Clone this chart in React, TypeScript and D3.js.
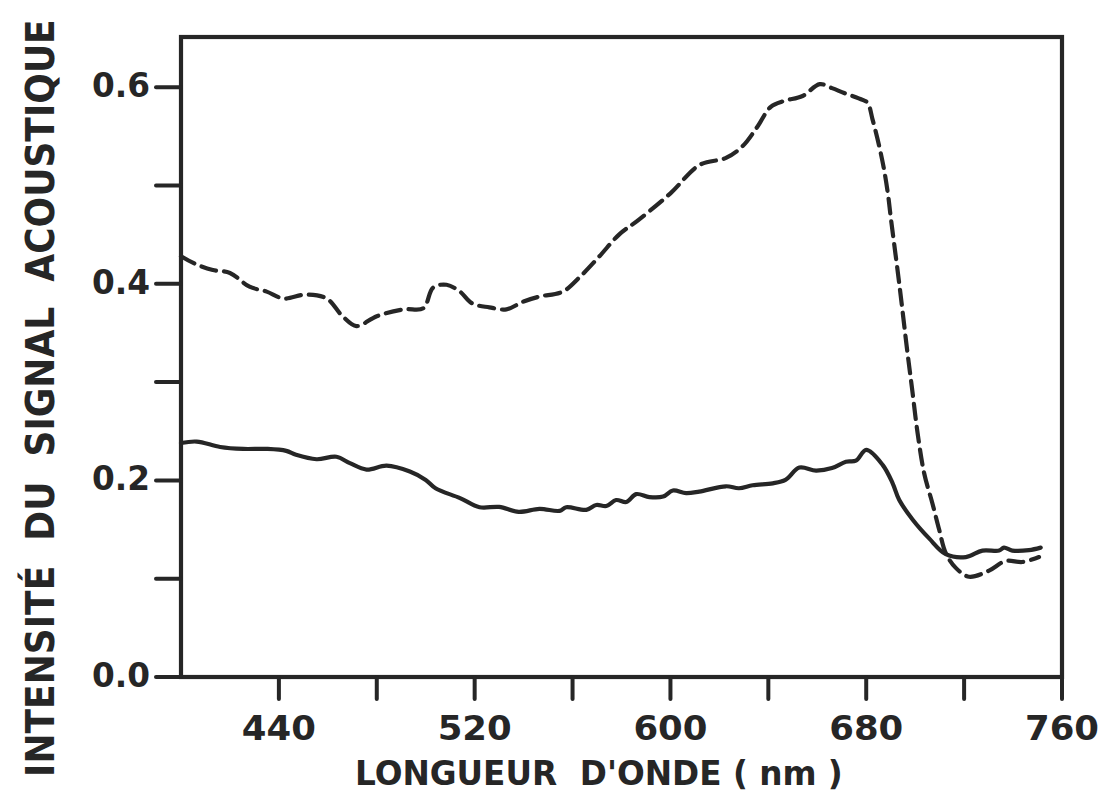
import React, { useLayoutEffect, useRef, useState } from "react";
import * as d3 from "d3";

const dashedWl = [400, 406, 413, 420, 428, 435, 442, 451, 459.5, 466, 471.7, 480, 491, 499, 503, 508.5, 514, 519, 526, 533, 540, 546.5, 556, 563, 571, 579, 587, 600, 612, 622.7, 629.5, 635.6, 641, 646.5, 654, 661, 666, 671, 678.5, 680.6, 682.6, 685.3, 687.3, 689, 690, 693.5, 696.9, 698.8, 701, 703.7, 707, 709.8, 712.5, 716.6, 722, 730, 737, 743.8, 750.6];
const dashedVal = [0.428, 0.420, 0.414, 0.411, 0.397, 0.392, 0.385, 0.389, 0.385, 0.367, 0.357, 0.367, 0.374, 0.375, 0.396, 0.399, 0.392, 0.380, 0.376, 0.374, 0.382, 0.387, 0.392, 0.407, 0.428, 0.450, 0.465, 0.492, 0.521, 0.528, 0.540, 0.560, 0.580, 0.586, 0.591, 0.603, 0.599, 0.594, 0.587, 0.584, 0.567, 0.540, 0.516, 0.489, 0.468, 0.400, 0.329, 0.292, 0.248, 0.207, 0.177, 0.150, 0.126, 0.111, 0.102, 0.108, 0.118, 0.117, 0.122];

const solidWl = [400, 406.4, 416, 425.4, 435, 443, 447, 455.4, 463.5, 469, 475.8, 484, 493.5, 500, 504, 514, 522, 530, 538, 546.5, 554.7, 557.4, 565.6, 569.7, 573.8, 577.8, 582, 586, 591.4, 597, 601, 606.4, 611.8, 622.7, 628, 633.6, 641.8, 647, 652.7, 659.5, 666, 671.7, 675.8, 680, 686.7, 690.8, 693.5, 699, 705.7, 712.5, 720.7, 727.5, 734.3, 736.3, 739.7, 746.5, 751.3];
const solidVal = [0.238, 0.2395, 0.234, 0.232, 0.232, 0.230, 0.226, 0.2215, 0.224, 0.2175, 0.211, 0.215, 0.209, 0.2005, 0.192, 0.182, 0.1727, 0.173, 0.168, 0.171, 0.169, 0.1727, 0.170, 0.175, 0.174, 0.180, 0.178, 0.186, 0.183, 0.1835, 0.1897, 0.187, 0.1886, 0.194, 0.192, 0.195, 0.197, 0.2005, 0.213, 0.210, 0.2125, 0.219, 0.220, 0.231, 0.2158, 0.197, 0.180, 0.160, 0.141, 0.125, 0.122, 0.1286, 0.1286, 0.1316, 0.1286, 0.129, 0.1316];

const xTicks = [440, 480, 520, 560, 600, 640, 680, 720, 760];
const xTickLabels = ["440", "", "520", "", "600", "", "680", "", "760"];
const yTicks = [0, 0.1, 0.2, 0.3, 0.4, 0.5, 0.6];
const yTickLabels = ["0.0", "", "0.2", "", "0.4", "", "0.6"];

const xTitle = "LONGUEUR  D'ONDE ( nm )";
const yTitle = "INTENSITÉ  DU  SIGNAL  ACOUSTIQUE";

const INK = "#262626";

export default function App() {
  const left = 181, right = 1062, top = 37, bottom = 677;
  const x = d3.scaleLinear().domain([400, 760]).range([left, right]);
  const y = d3.scaleLinear().domain([0, 0.651]).range([bottom, top]);

  const yTitleRef = useRef<SVGTextElement | null>(null);
  const xTitleRef = useRef<SVGTextElement | null>(null);
  const [ySx, setYSx] = useState(0.82);
  const [xSx, setXSx] = useState(1);

  useLayoutEffect(() => {
    if (yTitleRef.current) {
      const w = yTitleRef.current.getComputedTextLength();
      if (w > 0) setYSx(758 / w);
    }
    if (xTitleRef.current) {
      const w = xTitleRef.current.getComputedTextLength();
      if (w > 0) setXSx(488 / w);
    }
  }, []);

  const line = d3
    .line<[number, number]>()
    .x((d) => x(d[0]))
    .y((d) => y(d[1]))
    .curve(d3.curveCatmullRom.alpha(0.5));

  const dashed = dashedWl.map((w, i) => [w, dashedVal[i]] as [number, number]);
  const solid = solidWl.map((w, i) => [w, solidVal[i]] as [number, number]);

  const tickFont = "'DejaVu Sans', sans-serif";

  return (
    <svg
      width={1106}
      height={795}
      style={{ position: "absolute", left: 0, top: 0, background: "#fff" }}
    >
      <rect x={0} y={0} width={1106} height={795} fill="#fff" />
      <path
        d={line(dashed) || ""}
        fill="none"
        stroke={INK}
        strokeWidth={4.2}
        strokeDasharray="15,8"
        strokeLinecap="round"
        strokeLinejoin="round"
      />
      <path
        d={line(solid) || ""}
        fill="none"
        stroke={INK}
        strokeWidth={4.2}
        strokeLinecap="round"
        strokeLinejoin="round"
      />
      <rect
        x={left}
        y={top}
        width={right - left}
        height={bottom - top}
        fill="none"
        stroke={INK}
        strokeWidth={4.2}
      />
      {xTicks.map((t, i) => (
        <g key={"xt" + t}>
          <line x1={x(t)} x2={x(t)} y1={bottom} y2={bottom + 22} stroke={INK} strokeWidth={4} strokeLinecap="round" />
          {xTickLabels[i] && (
            <text
              x={x(t) - 37}
              y={740}
              textLength={74}
              lengthAdjust="spacingAndGlyphs"
              fontFamily={tickFont}
              fontWeight={700}
              fontSize={34}
              fill={INK}
            >
              {xTickLabels[i]}
            </text>
          )}
        </g>
      ))}
      {yTicks.map((t, i) => (
        <g key={"yt" + t}>
          <line x1={left - 25} x2={left} y1={y(t)} y2={y(t)} stroke={INK} strokeWidth={4} strokeLinecap="round" />
          {yTickLabels[i] && (
            <text
              x={92}
              y={y(t) + 10}
              textLength={58}
              lengthAdjust="spacingAndGlyphs"
              fontFamily={tickFont}
              fontWeight={700}
              fontSize={33}
              fill={INK}
            >
              {yTickLabels[i]}
            </text>
          )}
        </g>
      ))}
      <text
        ref={xTitleRef}
        transform={`translate(355,785) scale(${xSx},1)`}
        x={0}
        y={0}
        fontFamily={tickFont}
        fontWeight={700}
        fontSize={33}
        fill={INK}
        style={{ whiteSpace: "pre" }}
      >
        {xTitle}
      </text>
      <text
        ref={yTitleRef}
        transform={`translate(54,777) rotate(-90) scale(${ySx},1)`}
        x={0}
        y={0}
        fontFamily="'DejaVu Sans', sans-serif"
        fontWeight={700}
        fontSize={39}
        fill={INK}
        style={{ whiteSpace: "pre" }}
      >
        {yTitle}
      </text>
    </svg>
  );
}
